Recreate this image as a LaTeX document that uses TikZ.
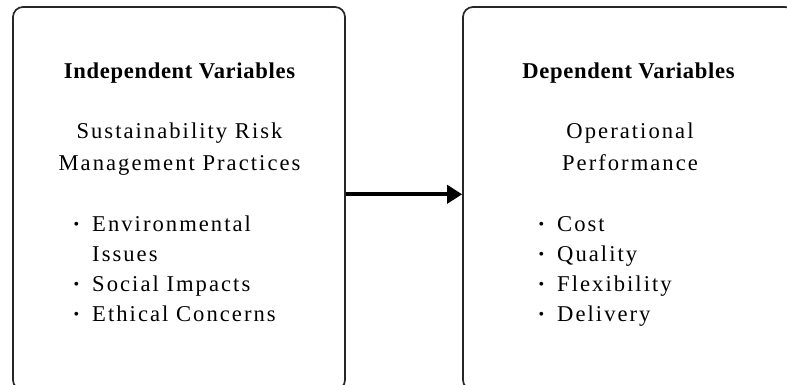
\documentclass[tikz,border=0pt]{standalone}
\usepackage{fontspec}
\setmainfont{Liberation Serif}
\newfontfamily\bodyfont[LetterSpace=9]{Liberation Serif}
\newfontfamily\headfont[LetterSpace=3]{Liberation Serif}
\usetikzlibrary{positioning}
\usetikzlibrary{calc}
\usetikzlibrary{arrows.meta}

% small raised bullet hanging left of the item text
\newcommand{\bul}{\llap{\raisebox{2.2pt}{\fontsize{16}{16}\selectfont\textbullet}\hspace{13pt}}}

\tikzset{
    varbox/.style={draw=black!85, line width=1.7pt, rounded corners=10pt,
        minimum width=332pt, minimum height=383pt, inner sep=0pt},
    head/.style={font=\fontsize{22.6}{30}\headfont\bfseries, anchor=base, inner sep=0pt},
    txt/.style={font=\fontsize{22.6}{30}\bodyfont, anchor=base, inner sep=0pt},
    item/.style={font=\fontsize{22.6}{30}\bodyfont, anchor=base west, inner sep=0pt},
}

\begin{document}
\begin{tikzpicture}[x=1pt, y=1pt]
    \useasboundingbox (0,0) rectangle (787,385);

    \node[varbox] (indep) at (179,186.5) {};
    \node[varbox] (dep) at (629,186.5) {};

    % independent side
    \node[head] (ihead) at (179.5,306) {Independent Variables};
    \node[txt] (i1) at (179.5,246) {Sustainability Risk};
    \node[txt] (i2) at ($(i1.base)+(0,-32)$) {Management Practices};
    \node[item] (e1) at (92,153) {\bul Environmental};
    \node[item] (e2) at ($(e1.base west)+(0,-30)$) {Issues};
    \node[item] (e3) at ($(e2.base west)+(0,-30)$) {\bul Social Impacts};
    \node[item] (e4) at ($(e3.base west)+(0,-30)$) {\bul Ethical Concerns};

    % dependent side
    \node[head] (dhead) at (628.5,306) {Dependent Variables};
    \node[txt] (d1) at (630,246) {Operational};
    \node[txt] (d2) at ($(d1.base)+(0,-32)$) {Performance};
    \node[item] (o1) at (557,153) {\bul Cost};
    \node[item] (o2) at ($(o1.base west)+(0,-30)$) {\bul Quality};
    \node[item] (o3) at ($(o2.base west)+(0,-30)$) {\bul Flexibility};
    \node[item] (o4) at ($(o3.base west)+(0,-30)$) {\bul Delivery};

    \draw[line width=4pt, -{Triangle[length=15pt, width=18pt]}]
        ([yshift=4.2pt]indep.east) -- ([yshift=4.2pt]dep.west);
\end{tikzpicture}
\end{document}
